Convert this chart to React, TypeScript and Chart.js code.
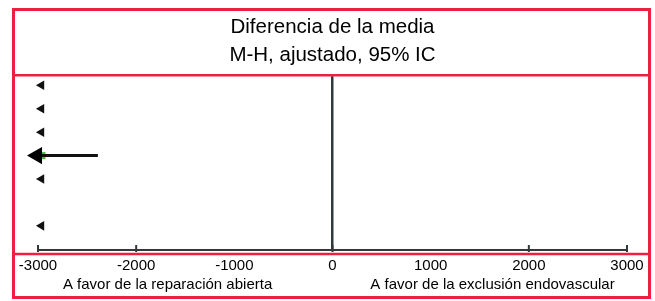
import React, { useEffect, useRef } from "react";
import { Chart, registerables } from "chart.js";

Chart.register(...registerables);

const titleLines = ["Diferencia de la media", "M-H, ajustado, 95% IC"];
const favorLabels = ["A favor de la reparación abierta", "A favor de la exclusión endovascular"];
const xTicks = [-3000, -2000, -1000, 0, 1000, 2000, 3000];
const markedTicks = [-3000, -2000, 0, 2000, 3000];
// rows whose estimate lies off the scale to the left (drawn as a left arrowhead)
const offScaleRows = [0, 1, 2, 4, 6];
const offScaleX = [-2965, -2965, -2965, -2965, -2965];
// pooled row: interval from its upper limit running off the left edge
const pooledRow = 3;
const pooledUpper = -2390;
const pooledArrowX = -3010;
const pooledPointX = -2960;

const RED = "#ee1f40";
const DARK = "#2e3b3b";
const FONT = "'Liberation Sans', Arial, sans-serif";

const framePlugin = {
  id: "frame",
  afterDraw(chart: any) {
    const { ctx, chartArea, scales } = chart;
    const x = scales.x;
    ctx.save();
    // tick marks
    ctx.strokeStyle = DARK;
    ctx.lineWidth = 2;
    markedTicks.forEach((v) => {
      const px = x.getPixelForValue(v);
      ctx.beginPath();
      ctx.moveTo(px, chartArea.bottom - 5);
      ctx.lineTo(px, chartArea.bottom + 2);
      ctx.stroke();
    });
    // favor labels
    ctx.fillStyle = "#000";
    ctx.font = "15px " + FONT;
    ctx.textAlign = "center";
    ctx.textBaseline = "middle";
    const anchors = [-1680, 1630];
    favorLabels.forEach((t, i) => {
      ctx.fillText(t, x.getPixelForValue(anchors[i]), chartArea.bottom + 35);
    });
    // red frame
    ctx.strokeStyle = RED;
    ctx.lineWidth = 3;
    ctx.strokeRect(13.5, 9.5, 636, 288);
    ctx.lineWidth = 2.5;
    ctx.beginPath();
    ctx.moveTo(13, chartArea.top - 1);
    ctx.lineTo(650, chartArea.top - 1);
    ctx.moveTo(13, chartArea.bottom + 4);
    ctx.lineTo(650, chartArea.bottom + 4);
    ctx.stroke();
    ctx.restore();
  },
};

export default function App() {
  const ref = useRef<HTMLCanvasElement | null>(null);
  useEffect(() => {
    const chart = new Chart(ref.current as HTMLCanvasElement, {
      type: "scatter",
      data: {
        datasets: [
          {
            label: "pooled arrowhead",
            data: [{ x: pooledArrowX, y: pooledRow }],
            pointStyle: "triangle",
            rotation: -90,
            pointRadius: 10,
            backgroundColor: "#000",
            borderColor: "#000",
            borderWidth: 0,
            clip: false,
            order: 0,
          },
          {
            label: "pooled interval",
            type: "line",
            data: [
              { x: pooledUpper, y: pooledRow },
              { x: pooledArrowX, y: pooledRow },
            ],
            borderColor: "#111",
            borderWidth: 3,
            pointRadius: 0,
            clip: false,
            order: 1,
          },
          {
            label: "pooled estimate",
            data: [{ x: pooledPointX, y: pooledRow }],
            pointStyle: "rect",
            pointRadius: 5,
            backgroundColor: "#3cc23c",
            borderWidth: 0,
            clip: false,
            order: 2,
          },
          {
            label: "studies",
            data: offScaleRows.map((r, i) => ({ x: offScaleX[i], y: r })),
            pointStyle: "triangle",
            rotation: -90,
            pointRadius: 5.5,
            backgroundColor: "#111",
            borderColor: "#111",
            borderWidth: 0,
            clip: false,
            order: 3,
          },
        ],
      },
      options: {
        responsive: false,
        animation: false,
        layout: { padding: { left: 38, right: 28, top: 0, bottom: 19 } },
        plugins: {
          legend: { display: false },
          tooltip: { enabled: false },
          title: {
            display: true,
            text: titleLines,
            color: "#000",
            font: { family: FONT, size: 20.5, weight: "normal", lineHeight: 1.37 },
            padding: { top: 13, bottom: 7 },
          },
        },
        scales: {
          x: {
            type: "linear",
            min: -3000,
            max: 3000,
            afterBuildTicks: (s: any) => {
              s.ticks = xTicks.map((v) => ({ value: v }));
            },
            ticks: {
              autoSkip: false,
              maxRotation: 0,
              color: "#000",
              padding: 7,
              font: { family: FONT, size: 15 },
              callback: (v: any) => String(v),
            },
            grid: {
              drawTicks: false,
              drawOnChartArea: true,
              color: (c: any) => (c.tick && c.tick.value === 0 ? DARK : "rgba(0,0,0,0)"),
              lineWidth: (c: any) => (c.tick && c.tick.value === 0 ? 2.5 : 0),
            },
            border: { display: true, color: DARK, width: 2 },
          },
          y: {
            type: "linear",
            display: false,
            reverse: true,
            min: -0.39,
            max: 7.03,
          },
        },
      },
      plugins: [framePlugin],
    } as any);
    return () => chart.destroy();
  }, []);
  return (
    <div style={{ position: "absolute", left: 0, top: 0, width: 655, height: 301, background: "#fff" }}>
      <canvas ref={ref} width={655} height={301} />
    </div>
  );
}
